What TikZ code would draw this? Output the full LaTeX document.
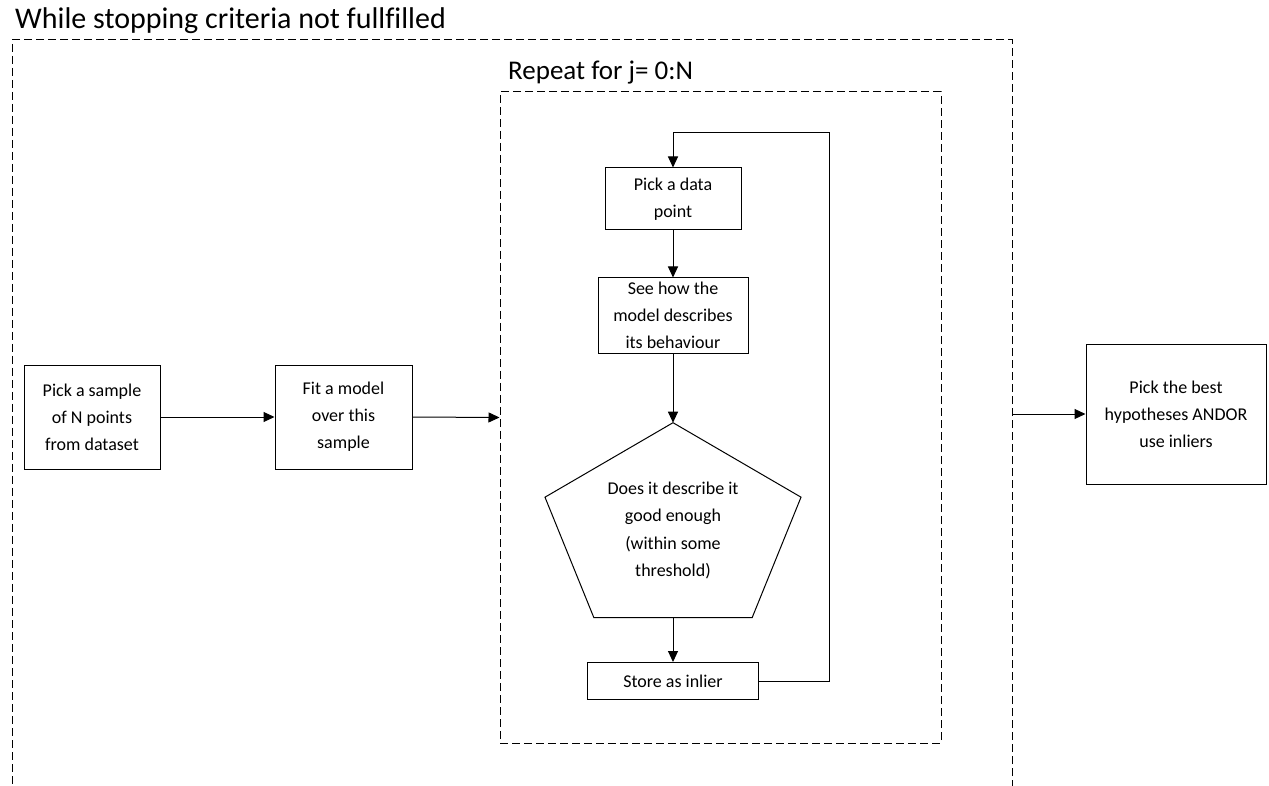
\documentclass[tikz,border=0pt]{standalone}
\usepackage{fontspec}
\setmainfont{Carlito}[Ligatures=CommonOff]
\usetikzlibrary{arrows.meta}
\tikzset{
	process/.style={
		rectangle,
		draw=black,
		line width=1pt,
		align=center,
		inner sep=0pt,
		font=\fontsize{18}{27}\selectfont,
	},
	decision/.style={
		draw=black,
		line width=1pt,
	},
	loopbox/.style={
		rectangle,
		draw=black,
		line width=1pt,
		dash pattern=on 8pt off 4pt,
		inner sep=0pt,
	},
	looplabel/.style={
		anchor=base west,
		inner sep=0pt,
	},
	arrow/.style={
		-{Triangle[length=11pt,width=10pt]},
		line width=1pt,
	},
}

\begin{document}
\begin{tikzpicture}[x=1pt,y=-1pt]
		\useasboundingbox (0,0) rectangle (1269,786);
		\clip (0,0) rectangle (1269,786);

		% outer while loop (open at the bottom)
		\node[loopbox, minimum width=1000pt, minimum height=756pt] (whilebox) at (512,418) {};
		\node[looplabel, font=\fontsize{30}{32}\selectfont] (whiletitle) at (15,28.5) {While stopping criteria not fullfilled};

		% inner repeat loop
		\node[loopbox, minimum width=441pt, minimum height=651pt] (repeatbox) at (720.5,417.5) {};
		\node[looplabel, font=\fontsize{27}{30}\selectfont] (repeattitle) at (508,80) {Repeat for j= 0:N};

		% steps before and after
		\node[process, minimum width=136pt, minimum height=104pt] (sample) at (92,417) {Pick a sample\\of N points\\from dataset};
		\node[process, minimum width=137pt, minimum height=104pt] (fit) at (343.5,417) {Fit a model\\over this\\sample};
		\node[process, minimum width=180pt, minimum height=140pt] (best) at (1176,414) {Pick the best\\hypotheses ANDOR\\use inliers};

		% steps inside the repeat loop
		\node[process, minimum width=136pt, minimum height=62pt] (pickpt) at (673,199) {Pick a data\\point};
		\node[process, minimum width=150pt, minimum height=75pt] (seehow) at (673,315.5) {See how the\\model describes\\its behaviour};
		\node[align=center, inner sep=0pt, font=\fontsize{18}{27.5}\selectfont] (check) at (673,530.5) {Does it describe it\\good enough\\(within some\\threshold)};
		\node[process, minimum width=171pt, minimum height=37pt] (store) at (673,681) {Store as inlier};

		% pentagon round the check
		\draw[decision, shift={(check)}] (270:134.6 and 107.8) -- (342:134.6 and 107.8) -- (54:134.6 and 107.8) -- (126:134.6 and 107.8) -- (198:134.6 and 107.8) -- cycle;
		\path (check) ++(0,-107.8) coordinate (checktop);
		\path (check) ++(0,87.2) coordinate (checkbot);
		\coordinate (loopturn) at (829,133);

		\draw[arrow] (sample.east) -- (fit.west);
		\draw[arrow] (fit.east) -- (repeatbox.west);
		\draw[arrow] (best.west -| whilebox.east) -- (best.west);

		\draw[arrow] (pickpt.south) -- (seehow.north);
		\draw[arrow] (seehow.south) -- (checktop);
		\draw[arrow] (checkbot) -- (store.north);
		\draw[arrow] (store.east) -| (loopturn) -| (pickpt.north);

\end{tikzpicture}
\end{document}
